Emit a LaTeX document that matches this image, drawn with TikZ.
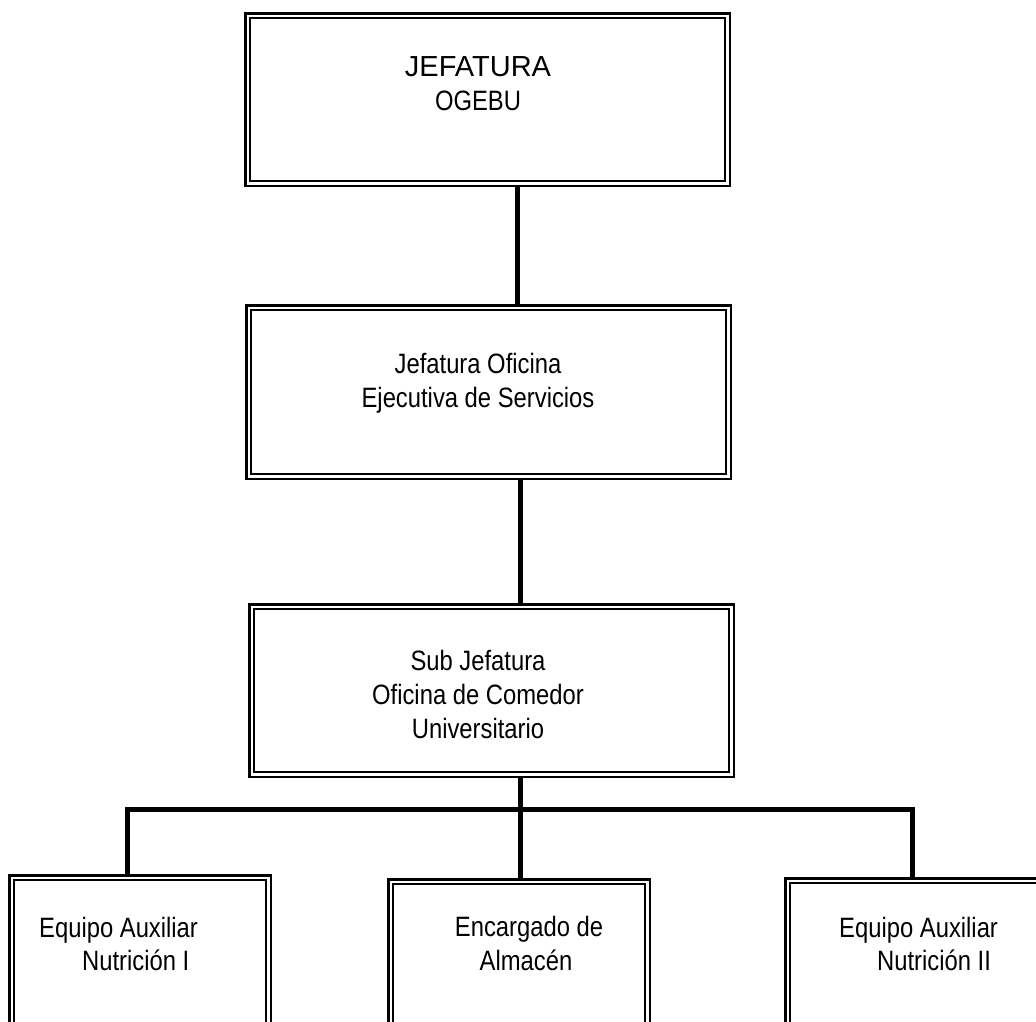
\documentclass[tikz,border=0pt]{standalone}
\usepackage{fontspec}
\setmainfont{Liberation Sans}[FakeStretch=0.85]
\newfontfamily\widefont{Liberation Sans}
\begin{document}
\begin{tikzpicture}[x=1pt,y=-1pt,
  box/.style={draw=black, line width=2.5pt, double=white, double distance=2.3pt,
    outer sep=3.65pt, inner sep=0pt, minimum width=479.7pt, minimum height=167.7pt,
    anchor=north west, fill=white},
  sbox/.style={box, minimum width=256.7pt},
  lbl/.style={inner sep=0pt, anchor=base, font=\fontsize{28}{34}\selectfont},
  lblw/.style={lbl, anchor=base west},
  conn/.style={line width=5pt}]
\useasboundingbox (0,0) rectangle (1036,1021);
\clip (0,0) rectangle (1036,1021);
% boxes
\node[box] (b1) at (244,12) {};
\node[box, minimum height=168.7pt] (b2) at (245,304) {};
\node[box] (b3) at (248,603) {};
\node[sbox] (b4) at (8,874) {};
\node[sbox] (b5) at (387,878) {};
\node[sbox] (b6) at (784,877) {};
% labels
\node[lbl, font=\widefont\fontsize{29}{34}\selectfont] (t1a) at (478,76) {JEFATURA};
\node[lbl] (t1b) at (478,110) {OGEBU};
\node[lbl] (t2a) at (478,373) {Jefatura Oficina};
\node[lbl] (t2b) at (478,407) {Ejecutiva de Servicios};
\node[lbl] (t3a) at (478,670) {Sub Jefatura};
\node[lbl] (t3b) at (478,704) {Oficina de Comedor};
\node[lbl] (t3c) at (478,738) {Universitario};
\node[lblw] (t4a) at (39,937) {Equipo Auxiliar};
\node[lblw] (t4b) at (82,970) {Nutrición I};
\node[lbl] (t5a) at (529,936) {Encargado de};
\node[lbl] (t5b) at (526,970) {Almacén};
\node[lblw] (t6a) at (839,937) {Equipo Auxiliar};
\node[lblw] (t6b) at (877,970) {Nutrición II};
% connectors
\coordinate (c1) at (517,0);
\coordinate (cM) at (520,809);
\coordinate (cL) at (127,809);
\coordinate (cR) at (912,809);
\draw[conn] (c1 |- b1.south) -- (c1 |- b2.north);
\draw[conn] (cM |- b2.south) -- (cM |- b3.north);
\draw[conn] (cM |- b3.south) -- (cM |- b5.north);
\draw[conn] (cL |- b4.north) -- (cL) -- (cR) -- (cR |- b6.north);
\end{tikzpicture}
\end{document}
